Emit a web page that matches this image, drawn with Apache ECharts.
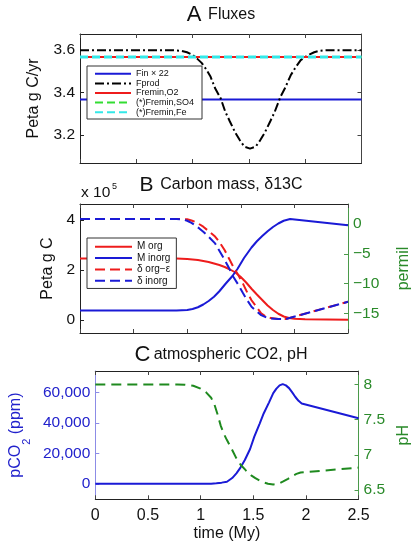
<!DOCTYPE html>
<html><head><meta charset="utf-8">
<script src="https://cdn.jsdelivr.net/npm/echarts@6/dist/echarts.min.js"></script>
<style>html,body{margin:0;padding:0;background:#fff}#c{width:420px;height:544px}</style>
</head><body><div id="c"></div>
<script>
// ---------- data ----------
const xTickValues = [0, 0.5, 1, 1.5, 2, 2.5];
// Panel A: fluxes (Peta g C/yr)
const tFlat = [0, 2.5];
const finX22 = [3.367, 3.367];
const freminO2 = [3.568, 3.568];
const freminSO4 = [3.568, 3.568];
const freminFe = [3.568, 3.568];
const tFprod = [0, 0.8, 0.9, 0.95, 1.0, 1.04, 1.08, 1.12, 1.16, 1.2, 1.25, 1.29, 1.33, 1.38, 1.42, 1.46, 1.51,
  1.56, 1.6, 1.64, 1.69, 1.73, 1.78, 1.82, 1.87, 1.91, 1.96, 2.0, 2.04, 2.08, 2.12, 2.17, 2.22, 2.5];
const fprod = [3.6, 3.6, 3.597, 3.59, 3.578, 3.56, 3.54, 3.51, 3.474, 3.42, 3.372, 3.31, 3.265, 3.21, 3.175, 3.145, 3.136,
  3.145, 3.175, 3.21, 3.265, 3.31, 3.38, 3.42, 3.48, 3.515, 3.553, 3.568, 3.58, 3.59, 3.596, 3.599, 3.6, 3.6];
const ticksA = [3.2, 3.4, 3.6];
// Panel B: carbon mass (x1e5 Peta g C) and delta13C (permil)
const tMorg = [0, 0.9, 1.0, 1.1, 1.2, 1.3, 1.35, 1.4, 1.45, 1.5, 1.55, 1.6, 1.65, 1.7, 1.75, 1.8, 1.85, 1.9, 1.95, 2.0, 2.1, 2.5];
const mOrg = [2.46, 2.46, 2.44, 2.4, 2.32, 2.2, 2.12, 2.02, 1.9, 1.72, 1.5, 1.25, 1.02, 0.8, 0.58, 0.4, 0.25, 0.14, 0.08, 0.05, 0.03, 0.01];
const tMinorg = [0, 0.9, 1.0, 1.05, 1.1, 1.15, 1.2, 1.25, 1.3, 1.36, 1.42, 1.47, 1.53, 1.6, 1.65, 1.7, 1.75, 1.8, 1.85, 1.9, 1.96, 2.5];
const mInorg = [0.38, 0.38, 0.40, 0.44, 0.51, 0.62, 0.76, 0.93, 1.15, 1.46, 1.75, 2.05, 2.48, 2.9, 3.15, 3.36, 3.55, 3.72, 3.86, 3.97, 4.04, 3.79];
const tDelta = [0, 0.9, 0.95, 1.0, 1.04, 1.07, 1.11, 1.15, 1.2, 1.26, 1.3, 1.35, 1.39, 1.43, 1.48, 1.52, 1.56, 1.6, 1.65, 1.69, 1.74, 1.78, 1.85, 1.92, 2.5];
const dInorg = [0.84, 0.84, 0.8, 0.55, 0.2, -0.17, -0.7, -1.3, -2.15, -3.25, -4.5, -6.05, -7.4, -8.85, -10.3, -11.6, -12.8, -13.9, -14.7, -15.3, -15.7, -15.85, -15.95, -15.95, -13.06];
const dOrg = [0.84, 0.84, 0.84, 0.8, 0.6, 0.4, 0.0, -0.45, -1.2, -2.1, -3.0, -4.4, -5.8, -7.2, -8.7, -10, -11.5, -12.8, -14.0, -15.0, -15.6, -15.8, -15.95, -15.95, -13.06];
const ticksBLeft = [0, 2, 4];
const ticksBRight = [-15, -10, -5, 0];
// Panel C: pCO2 (ppm) and pH
const tCO2 = [0, 1.0, 1.1, 1.15, 1.2, 1.25, 1.3, 1.34, 1.38, 1.42, 1.47, 1.51, 1.56, 1.6, 1.65, 1.69, 1.72, 1.75, 1.78, 1.81, 1.84, 1.87, 1.9, 1.93, 1.96, 2.5];
const pCO2 = [200, 200, 300, 600, 1000, 1600, 4000, 7100, 11000, 15800, 23000, 31100, 39500, 46400, 53500, 59500, 62500, 64600, 65400, 64600, 62800, 60000, 57000, 54500, 52800, 43100];
const tPH = [0, 0.78, 0.85, 0.93, 1.0, 1.05, 1.1, 1.13, 1.16, 1.19, 1.22, 1.25, 1.3, 1.34, 1.38, 1.43, 1.48, 1.52, 1.58, 1.64, 1.69, 1.74, 1.78, 1.83, 1.87, 1.91, 1.95, 2.5];
const pH = [8, 8, 7.995, 7.98, 7.94, 7.89, 7.81, 7.72, 7.58, 7.42, 7.3, 7.21, 7.07, 6.95, 6.86, 6.78, 6.71, 6.67, 6.62, 6.59, 6.58, 6.59, 6.62, 6.66, 6.70, 6.73, 6.75, 6.82];
const ticksCLeft = [0, 20000, 40000, 60000];
const ticksCRight = [6.5, 7, 7.5, 8];

// ---------- helpers ----------
const FONT = '"Liberation Sans", Arial, Helvetica, sans-serif';
const zip = (t, v) => t.map((x, i) => [x, v[i]]);
const BLUE = '#1a1ad6', RED = '#ee1c1c', GREEN_LINE = '#1f8a1f', GREEN_TXT = '#2a8a2a', CYAN = '#33e8e8', LGREEN = '#33dd33';

const grids = [
  {left: 80, top: 34, width: 281.5, height: 129},
  {left: 80, top: 204, width: 281.5, height: 129},
  {left: 80, top: 371, width: 281.5, height: 128.3}
];

function xAx(gi, pos, showLabel) {
  return {
    type: 'value', gridIndex: gi, position: pos, min: 0, max: 2.5, interval: 0.5,
    axisLine: {show: true, onZero: false, lineStyle: {color: '#222', width: 1}},
    axisTick: {show: true, inside: true, length: 4, lineStyle: {color: '#444'}},
    axisLabel: {show: showLabel, fontFamily: FONT, fontSize: 16, color: '#111', margin: 8},
    splitLine: {show: false},
    name: showLabel ? 'time (My)' : '', nameLocation: 'middle', nameGap: 26,
    nameTextStyle: {fontFamily: FONT, fontSize: 16, color: '#111'}
  };
}
function yAx(gi, pos, min, max, ticks, opts) {
  return {
    type: 'value', gridIndex: gi, position: pos, min: min, max: max,
    axisLine: {show: true, onZero: false, lineStyle: {color: opts.lineColor, width: 1}},
    axisTick: {show: true, inside: true, length: 4, customValues: ticks, lineStyle: {color: opts.lineColor}},
    axisLabel: {show: opts.showLabel !== false, customValues: ticks, fontFamily: FONT, fontSize: 15.5,
      color: opts.textColor, margin: 5, formatter: opts.fmt},
    splitLine: {show: false},
    name: opts.name || '', nameLocation: 'middle', nameGap: opts.gap || 30,
    nameTextStyle: Object.assign({fontFamily: FONT, fontSize: 16, color: opts.textColor}, opts.nameStyle || {})
  };
}
function ln(name, xi, yi, t, v, color, width, dash) {
  return {name: name, type: 'line', xAxisIndex: xi, yAxisIndex: yi, symbol: 'none', data: zip(t, v),
    lineStyle: {color: color, width: width, type: dash || 'solid'}, itemStyle: {color: color}};
}

const option = {
  animation: false,
  backgroundColor: '#fff',
  textStyle: {fontFamily: FONT},
  grid: grids,
  xAxis: [
    xAx(0, 'bottom', false), xAx(0, 'top', false),
    xAx(1, 'bottom', false), xAx(1, 'top', false),
    xAx(2, 'bottom', true), xAx(2, 'top', false)
  ],
  yAxis: [
    yAx(0, 'left', 3.068, 3.676, ticksA, {lineColor: '#222', textColor: '#111', name: 'Peta g C/yr', gap: 38,
      fmt: v => v.toFixed(1)}),
    yAx(0, 'right', 3.068, 3.676, ticksA, {lineColor: '#444', textColor: '#111', showLabel: false}),
    yAx(1, 'left', -0.52, 4.64, ticksBLeft, {lineColor: '#222', textColor: '#111', name: 'Peta g C', gap: 24,
      fmt: v => String(Math.round(v))}),
    yAx(1, 'right', -18.3, 3.36, ticksBRight, {lineColor: '#4a9a4a', textColor: GREEN_TXT, name: 'permil', gap: 48,
      fmt: v => String(Math.round(v)).replace('-', '\u2212')}),
    yAx(2, 'left', -9900, 74000, ticksCLeft, {lineColor: '#8c8ce6', textColor: '#2222cc', name: 'pCO{s|2} (ppm)', gap: 56,
      fmt: v => Math.round(v).toLocaleString('en-US'),
      nameStyle: {rich: {s: {fontFamily: FONT, fontSize: 11, color: '#2222cc', verticalAlign: 'bottom', padding: [0, 0, -8, 0]}}}}),
    yAx(2, 'right', 6.37, 8.19, ticksCRight, {lineColor: '#4a9a4a', textColor: GREEN_TXT, name: 'pH', gap: 37,
      fmt: v => String(v)})
  ],
  legend: [
    {
      left: 87, top: 66, orient: 'vertical', itemWidth: 36, itemHeight: 12, itemGap: 0,
      padding: [3, 8, 2, 7], borderColor: '#333', borderWidth: 1, backgroundColor: '#fff',
      itemStyle: {opacity: 0},
      selectedMode: false, textStyle: {fontFamily: FONT, fontSize: 9, color: '#111'},
      data: ['Fin \u00d7 22', 'Fprod', 'Fremin,O2', '(*)Fremin,SO4', '(*)Fremin,Fe']
    },
    {
      left: 87, top: 238, orient: 'vertical', itemWidth: 37, itemHeight: 14.2, itemGap: 0,
      padding: [3, 6, 2, 7], borderColor: '#333', borderWidth: 1, backgroundColor: '#fff',
      itemStyle: {opacity: 0},
      selectedMode: false, textStyle: {fontFamily: FONT, fontSize: 10, color: '#111'},
      data: ['M org', 'M inorg', '\u03b4 org\u2212\u03b5', '\u03b4 inorg']
    }
  ],
  series: [
    ln('Fin \u00d7 22', 0, 0, tFlat, finX22, BLUE, 2),
    ln('Fprod', 0, 0, tFprod, fprod, '#000', 2, [9, 3, 2, 3]),
    ln('Fremin,O2', 0, 0, tFlat, freminO2, RED, 2),
    ln('(*)Fremin,SO4', 0, 0, tFlat, freminSO4, LGREEN, 2, [8, 4]),
    ln('(*)Fremin,Fe', 0, 0, tFlat, freminFe, CYAN, 3, [8, 4]),

    ln('M org', 2, 2, tMorg, mOrg, RED, 2),
    ln('M inorg', 2, 2, tMinorg, mInorg, BLUE, 2),
    ln('\u03b4 org\u2212\u03b5', 2, 3, tDelta, dOrg, RED, 2, [10, 5]),
    ln('\u03b4 inorg', 2, 3, tDelta, dInorg, BLUE, 2, [10, 5]),

    ln('pCO2', 4, 4, tCO2, pCO2, BLUE, 2),
    ln('pH', 4, 5, tPH, pH, GREEN_LINE, 2, [10, 6])
  ],
  graphic: [
    {type: 'text', x: 221, y: 15, style: {text: '{a|A}  {b|Fluxes}', align: 'center', verticalAlign: 'middle',
      rich: {a: {fontFamily: FONT, fontSize: 22, fill: '#111'}, b: {fontFamily: FONT, fontSize: 16, fill: '#111'}}}},
    {type: 'text', x: 221, y: 185, style: {text: '{a|B}  {b|Carbon mass, \u03b413C}', align: 'center', verticalAlign: 'middle',
      rich: {a: {fontFamily: FONT, fontSize: 21, fill: '#111'}, b: {fontFamily: FONT, fontSize: 16, fill: '#111'}}}},
    {type: 'text', x: 221, y: 355, style: {text: '{a|C} {b|atmospheric CO2, pH}', align: 'center', verticalAlign: 'middle',
      rich: {a: {fontFamily: FONT, fontSize: 22, fill: '#111'}, b: {fontFamily: FONT, fontSize: 16, fill: '#111'}}}},
    {type: 'text', x: 81, y: 193, style: {text: 'x 10', align: 'left', verticalAlign: 'middle',
      fontFamily: FONT, fontSize: 15.5, fill: '#111'}},
    {type: 'text', x: 112, y: 187, style: {text: '5', align: 'left', verticalAlign: 'middle',
      fontFamily: FONT, fontSize: 9, fill: '#111'}}
  ]
};

const chart = echarts.init(document.getElementById('c'), null, {renderer: 'canvas'});
chart.setOption(option);
</script>
</body></html>
